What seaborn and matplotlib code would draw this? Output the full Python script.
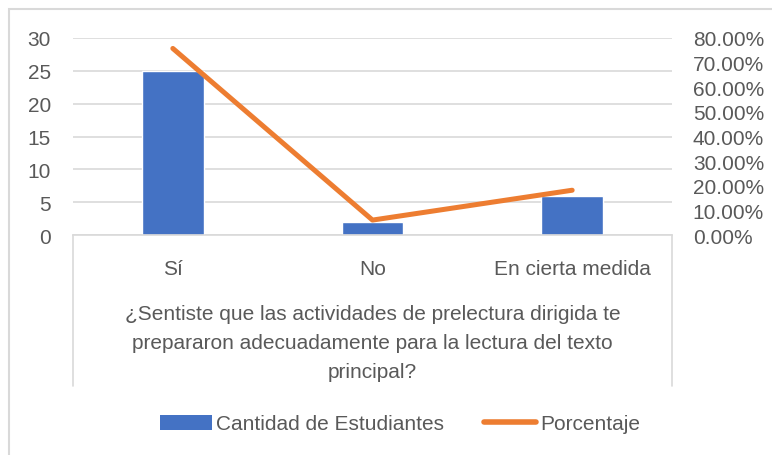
import numpy as np
import matplotlib
matplotlib.use("Agg")
import matplotlib.pyplot as plt
from matplotlib.ticker import PercentFormatter, MultipleLocator
from matplotlib.patches import Patch, Rectangle
from matplotlib.lines import Line2D
import seaborn as sns

# data
categories = ["Sí", "No", "En cierta medida"]
cantidad = [25, 2, 6]
porcentaje = [0.7576, 0.0606, 0.1818]

x_title = ("¿Sentiste que las actividades de prelectura dirigida te\n"
           "prepararon adecuadamente para la lectura del texto\n"
           "principal?")

BLUE = "#4472C4"
ORANGE = "#ED7D31"
GRID = "#D9D9D9"
TEXT = "#595959"
FS = 15

sns.set_style("white")
plt.rcParams["font.family"] = ["Liberation Sans", "DejaVu Sans"]
plt.rcParams["font.size"] = FS

fig = plt.figure(figsize=(7.72, 4.56), dpi=100)
ax = fig.add_axes([73 / 772, 1 - 236 / 456, (672 - 73) / 772, (236 - 39) / 456])

sns.barplot(x=categories, y=cantidad, color=BLUE, width=0.31, saturation=1,
            ax=ax, zorder=2)
ax.set_ylim(0, 30)
ax.yaxis.set_major_locator(MultipleLocator(5))
ax.grid(axis="y", color=GRID, linewidth=1.2, zorder=0)
ax.set_axisbelow(True)
for s in ["top", "left", "right"]:
    ax.spines[s].set_visible(False)
ax.spines["bottom"].set_color(GRID)
ax.spines["bottom"].set_linewidth(1.2)
ax.tick_params(axis="both", length=0, colors=TEXT, labelsize=FS)
ax.tick_params(axis="x", pad=17)
ax.tick_params(axis="y", pad=16)
ax.set_ylabel("")
ax.set_xlabel(x_title, color=TEXT, fontsize=FS, linespacing=1.65, labelpad=19)

ax2 = ax.twinx()
sns.lineplot(x=np.arange(len(categories)), y=porcentaje, color=ORANGE,
             linewidth=3.6, ax=ax2, solid_capstyle="round")
ax2.set_ylim(0, 0.8)
ax2.yaxis.set_major_locator(MultipleLocator(0.1))
ax2.yaxis.set_major_formatter(PercentFormatter(1, decimals=2))
ax2.tick_params(axis="y", length=0, colors=TEXT, labelsize=FS, pad=15)
for s in ax2.spines.values():
    s.set_visible(False)
ax2.grid(False)
ax.set_xlim(-0.5, len(categories) - 0.5)

# axis box lines running down around the category labels
for xx in (0, 1):
    ax.plot([xx, xx], [0, -0.766], transform=ax.transAxes, color=GRID,
            linewidth=1.2, clip_on=False)

# outer chart border
fig.patches.append(Rectangle((9 / 772, -0.1), 1.2, 1 - 10 / 456 + 0.1,
                             transform=fig.transFigure, fill=False,
                             edgecolor=GRID, linewidth=1.5))

handles = [Patch(facecolor=BLUE, edgecolor="none"),
           Line2D([0], [0], color=ORANGE, linewidth=4, solid_capstyle="round")]
fig.legend(handles, ["Cantidad de Estudiantes", "Porcentaje"], loc="center",
           bbox_to_anchor=(400 / 772, 1 - 425 / 456), ncol=2, frameon=False,
           handlelength=2.5, handleheight=0.7, handletextpad=0.2,
           columnspacing=1.9, labelcolor=TEXT, fontsize=FS)

fig.savefig("out.png", dpi=100)
